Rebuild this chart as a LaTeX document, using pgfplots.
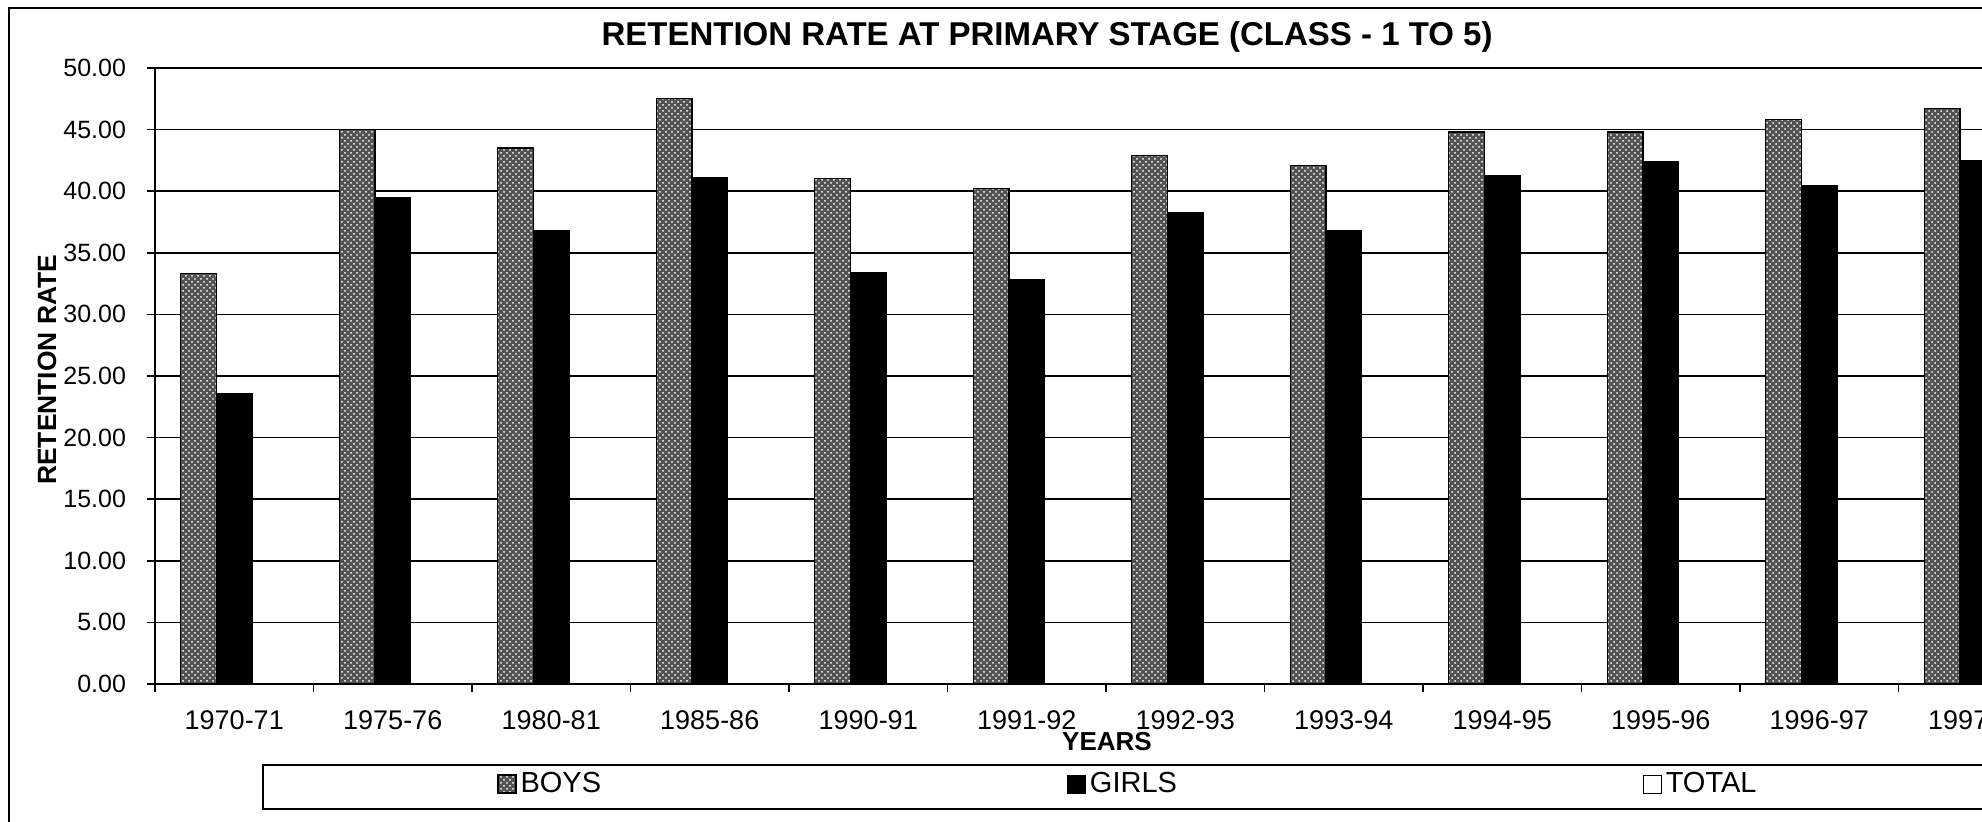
\documentclass[border=0pt]{standalone}
\usepackage{fontspec}
\setmainfont{Liberation Sans}
\usepackage{pgfplots}
\pgfplotsset{compat=1.18}
\usetikzlibrary{patterns}
\begin{document}
\begin{tikzpicture}
\path[use as bounding box] (0,0) rectangle (991pt,411pt);
\clip (0,0) rectangle (991pt,411pt);
\draw[line width=0.8pt] (4.5pt,0) -- (4.5pt,407pt) -- (995pt,407pt);
\draw[line width=0.6pt] (1000pt,28.5pt) -- (131.5pt,28.5pt) -- (131.5pt,6.5pt) -- (1000pt,6.5pt);
\begin{axis}[
  at={(77.5pt,69pt)}, anchor=south west,
  scale only axis, width=951pt, height=308pt,
  xmin=-0.5, xmax=11.5, ymin=0, ymax=50,
  axis x line*=bottom, axis y line*=left,
  axis line style={line width=1pt},
  xtick={-0.5,0.5,...,11.5},
  x tick label as interval,
  xticklabels={1970-71,1975-76,1980-81,1985-86,1990-91,1991-92,1992-93,1993-94,1994-95,1995-96,1996-97,1997-98},
  ytick={0,5,...,50},
  tick align=outside, major tick length=4pt,
  tick style={black, line width=0.8pt},
  ymajorgrids, major grid style={black, line width=0.8pt},
  /pgf/number format/assume math mode=true,
  yticklabel style={/pgf/number format/fixed, /pgf/number format/fixed zerofill, /pgf/number format/precision=2, font=\fontsize{12.5}{14}\selectfont, xshift=-7pt},
  xticklabel style={font=\fontsize{13.5}{15}\selectfont, yshift=-6pt},
  title={\textbf{RETENTION RATE AT PRIMARY STAGE (CLASS - 1 TO 5)}},
  title style={at={(axis description cs:0.469,1)}, anchor=base, yshift=5pt, font=\fontsize{16.5}{18}\selectfont},
  xlabel={\textbf{YEARS}},
  xlabel style={at={(axis description cs:0.5005,-0.0942)}, anchor=center, font=\fontsize{13}{15}\selectfont},
  ylabel={\textbf{RETENTION RATE}},
  ylabel style={at={(axis description cs:-0.0568,0.51)}, anchor=center, font=\fontsize{13.2}{15}\selectfont},
  legend columns=3,
  legend style={draw=none, fill=none, at={(axis description cs:0.1798,-0.1623)}, anchor=west, inner xsep=0pt, font=\fontsize{14.5}{16}\selectfont, /tikz/every even column/.append style={column sep=231pt}},
  legend image code/.code={\draw[#1] (0pt,-4.5pt) rectangle (9pt,4.5pt);},
  bar width=0.225,
]
\addplot[ybar, bar shift=-0.225, draw=black, line width=0.6pt, fill=black!68, postaction={pattern=crosshatch dots, pattern color=white}] coordinates {
(0,33.3) (1,45.0) (2,43.5) (3,47.5) (4,41.0) (5,40.2) (6,42.9) (7,42.1) (8,44.8) (9,44.8) (10,45.8) (11,46.7)};
\addlegendentry{BOYS}
\addplot[ybar, bar shift=0, draw=black, fill=black] coordinates {
(0,23.6) (1,39.5) (2,36.8) (3,41.1) (4,33.4) (5,32.8) (6,38.3) (7,36.8) (8,41.3) (9,42.4) (10,40.5) (11,42.5)};
\addlegendentry{GIRLS}
\addlegendimage{draw=black, fill=white}
\addlegendentry{TOTAL}
\end{axis}
\end{tikzpicture}
\end{document}
